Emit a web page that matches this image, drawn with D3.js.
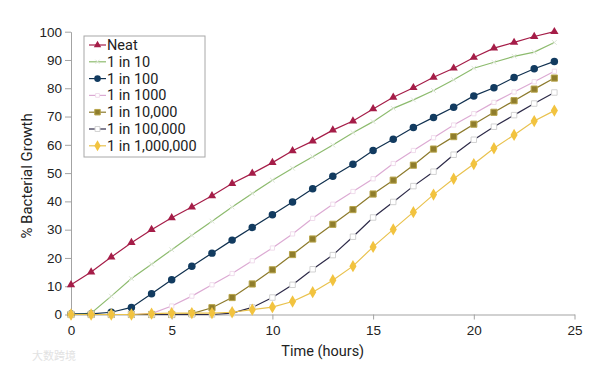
<!DOCTYPE html>
<html>
<head>
<meta charset="utf-8">
<script src="https://cdn.jsdelivr.net/npm/d3@7"></script>
<style>
  body { margin: 0; background: #fff; }
  svg { display: block; font-family: Roboto, "DejaVu Sans", sans-serif; }
</style>
</head>
<body>
<div id="chart"></div>
<script>
const hours = [0,1,2,3,4,5,6,7,8,9,10,11,12,13,14,15,16,17,18,19,20,21,22,23,24]
const seriesNames = ["Neat","1 in 10","1 in 100","1 in 1000","1 in 10,000","1 in 100,000","1 in 1,000,000"]
const neat = [10.5,15,20.3,25.4,30,34.2,38,42,46.3,49.9,53.7,57.9,61.3,65.2,68.4,72.7,76.8,80.2,83.9,87.1,90.9,94.2,96.2,98.3,100]
const in10 = [0,0.5,6.5,12.7,17.8,22.9,28,33,38,42.8,47.5,51.7,55.8,59.9,64.3,68.2,72.9,75.9,79.2,83,87.1,89.2,91.3,92.8,96.2]
const in100 = [0.2,0.2,0.8,2.5,7.3,12.3,17.1,21.7,26.3,30.8,35.3,39.8,44.5,48.9,53.1,58,62,66.1,69.7,73.3,77.3,80.2,83.8,86.9,89.5]
const in1000 = [0,0,0,0,0.3,3,6.5,10.5,14.5,19,23.5,28.5,34,39,43.5,48,53.4,58,62.5,67,71,75,78.7,82.3,86]
const in10k = [0,0,0,0,0,0,0.3,2.4,6,10.8,15.8,21.2,26.7,31.9,37.1,42.6,47.5,52.8,58.5,62.9,67.3,71.5,75.6,79.7,83.6]
const in100k = [0,0,0,0,0,0,0,0,0.5,2.5,6,10.5,16,21,27.5,34.3,39.8,45.4,50.5,56.5,61.8,66.4,70.5,74.6,78.5]
const in1m = [0,0,0,0,0.3,0.5,0.5,0.5,0.8,1.7,2.6,4.6,7.9,12.1,17.1,23.9,30.1,36.2,42.4,48,53.2,58.8,63.5,68.4,72.1]
const xTicks = [0,5,10,15,20,25]
const yTicks = [0,10,20,30,40,50,60,70,80,90,100]

// styles per series, same order as seriesNames
const styles = [
  {line:"#a51d48", sym:d3.symbolTriangle, size:30, fill:"#a51d48", stroke:"none"},
  {line:"#8dbb6e", sym:d3.symbolTimes, size:16, fill:"none", stroke:"#dde6d6"},
  {line:"#10304f", sym:d3.symbolCircle, size:44, fill:"#123b60", stroke:"none"},
  {line:"#dcaad3", sym:d3.symbolSquare, size:18, fill:"#fff", stroke:"#f0dcec"},
  {line:"#8c7a2c", sym:d3.symbolSquare, size:38, fill:"#8f7d2c", stroke:"#b8a54c"},
  {line:"#2d2a48", sym:d3.symbolSquare, size:30, fill:"#fff", stroke:"#d2d2d2"},
  {line:"#e9c24e", sym:d3.symbolDiamond, size:44, fill:"#f2c33f", stroke:"none"}
]
const allSeries = [neat,in10,in100,in1000,in10k,in100k,in1m]

const width = 600, height = 373

const svg = d3.select("#chart").append("svg")
  .attr("width", width)
  .attr("height", height)

const xScale = d3.scaleLinear().domain([0,25]).range([71,574.5])
const yScale = d3.scaleLinear().domain([0,100]).range([314.5,31.7])

const xAxis = d3.axisBottom(xScale).tickValues(xTicks).tickSizeInner(5).tickSizeOuter(0).tickPadding(6)
const yAxis = d3.axisLeft(yScale).tickValues(yTicks).tickSizeInner(6).tickSizeOuter(0).tickPadding(3)

const gx = svg.append("g")
  .attr("transform", `translate(0,${yScale(0)})`)
  .call(xAxis)
const gy = svg.append("g")
  .attr("transform", `translate(${xScale(0)},0)`)
  .call(yAxis)

;[gx,gy].forEach(g=>{
  g.selectAll("path,line").attr("stroke","#a3a3a3")
  g.selectAll("text").attr("fill","#222").style("font-size","13.5px")
})

svg.append("text")
  .attr("x", (xScale(0)+xScale(25))/2)
  .attr("y", 356)
  .attr("text-anchor","middle")
  .attr("fill","#222")
  .style("font-size","14.5px")
  .text("Time (hours)")

svg.append("text")
  .attr("transform", `translate(32,${yScale(49)}) rotate(-90)`)
  .attr("text-anchor","middle")
  .attr("fill","#222")
  .style("font-size","15px")
  .text("% Bacterial Growth")

const line = d3.line().x((d,i)=>xScale(hours[i])).y(d=>yScale(d))

allSeries.forEach((vals,k)=>{
  const st = styles[k]
  svg.append("path")
    .datum(vals)
    .attr("fill","none")
    .attr("stroke", st.line)
    .attr("stroke-width", 1.2)
    .attr("d", line)
})
// markers on top of all lines
allSeries.forEach((vals,k)=>{
  const st = styles[k]
  svg.append("g").selectAll("path")
    .data(vals)
    .enter().append("path")
    .attr("d", d3.symbol().type(st.sym).size(st.size))
    .attr("transform",(d,i)=>`translate(${xScale(hours[i])},${yScale(d)})`)
    .attr("fill", st.fill)
    .attr("stroke", st.stroke)
    .attr("stroke-width", 1)
})

// legend
const legend = svg.append("g").attr("transform","translate(84,36)")
legend.append("rect")
  .attr("width",121).attr("height",121)
  .attr("fill","#fff").attr("stroke","#a8a8a8")

const row = legend.selectAll("g.row")
  .data(seriesNames)
  .enter().append("g")
  .attr("class","row")
  .attr("transform",(d,i)=>`translate(0,${9+i*16.8})`)
row.append("line")
  .attr("x1",5).attr("x2",22)
  .attr("stroke",(d,i)=>styles[i].line).attr("stroke-width",1.2)
row.append("path")
  .attr("transform","translate(13.5,0)")
  .attr("d",(d,i)=>d3.symbol().type(styles[i].sym).size(styles[i].size*0.8)())
  .attr("fill",(d,i)=>styles[i].fill)
  .attr("stroke",(d,i)=>styles[i].stroke)
row.append("text")
  .attr("x",23).attr("dy","0.35em")
  .attr("fill","#222")
  .style("font-size","14.5px")
  .text(d=>d)

// faint watermark
svg.append("text")
  .attr("x",32).attr("y",360)
  .attr("fill","#e2e2e2")
  .style("font-size","11px")
  .style("font-family","'Noto Sans CJK SC'")
  .text("大数跨境")
</script>
</body>
</html>
